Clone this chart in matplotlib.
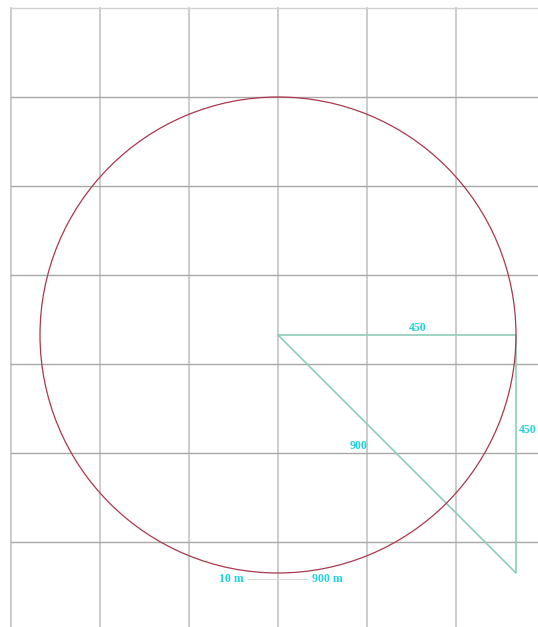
import numpy as np
import matplotlib.pyplot as plt
from matplotlib.patches import Circle

# Values (metres)
radius = 450
side_labels = ["450", "450", "900"]
scale_labels = ["10 m", "900 m"]
leg_x = [0, 450, 450, 0]
leg_y = [0, 0, -450, 0]

# layout (metres, circle centre at origin)
px = 238 / 450.0            # pixels per metre
W, H = 538, 627
cx, cy = 278, 335           # centre in pixels
step = 89 / px              # grid spacing


def to_data(x, y):
    """pixel position -> metres"""
    return (x - cx) / px, (cy - y) / px


fig = plt.figure(figsize=(W / 100, H / 100), dpi=100)
ax = fig.add_axes([0, 0, 1, 1])
ax.set_xlim(-cx / px, (W - cx) / px)
ax.set_ylim(-(H - cy) / px, cy / px)
ax.axis("off")

# grid starting at top-left corner (11, 8) px
gx0, gy0 = to_data(11, 8)
xmax = (W - cx) / px
ymin = -(H - cy) / px
for i in range(8):
    x = gx0 + i * step
    ax.plot([x, x], [ymin, gy0], color="#c4c4c4", lw=1.2, zorder=1)
for j in range(8):
    y = gy0 - j * step
    shade = "#d0d0d0" if j == 0 else "#a8a8a8"
    ax.plot([gx0, xmax], [y, y], color=shade, lw=1.0, zorder=1)

ax.add_patch(Circle((0, 0), radius, fill=False, ec="#a8384e", lw=0.9, zorder=3))

ax.plot(leg_x, leg_y, color="#8ecdbb", lw=1.2, zorder=2)

font = dict(family="Liberation Serif", weight="bold", color="#22d3df", fontsize=8.5)
ax.text(*to_data(418, 328), side_labels[0], ha="center", va="center", **font)
ax.text(*to_data(537, 430), side_labels[1], ha="right", va="center", **font)
ax.text(*to_data(359, 446), side_labels[2], ha="center", va="center", **font)

ax.text(*to_data(231.5, 579), scale_labels[0], ha="center", va="center", **font)
ax.text(*to_data(327, 579), scale_labels[1], ha="center", va="center", **font)
x1, yb = to_data(248, 579)
x2, _ = to_data(307, 579)
ax.plot([x1, x2], [yb, yb], color="#d8d8d8", lw=0.7, zorder=2)

fig.savefig("out.png", dpi=100, facecolor="white")
